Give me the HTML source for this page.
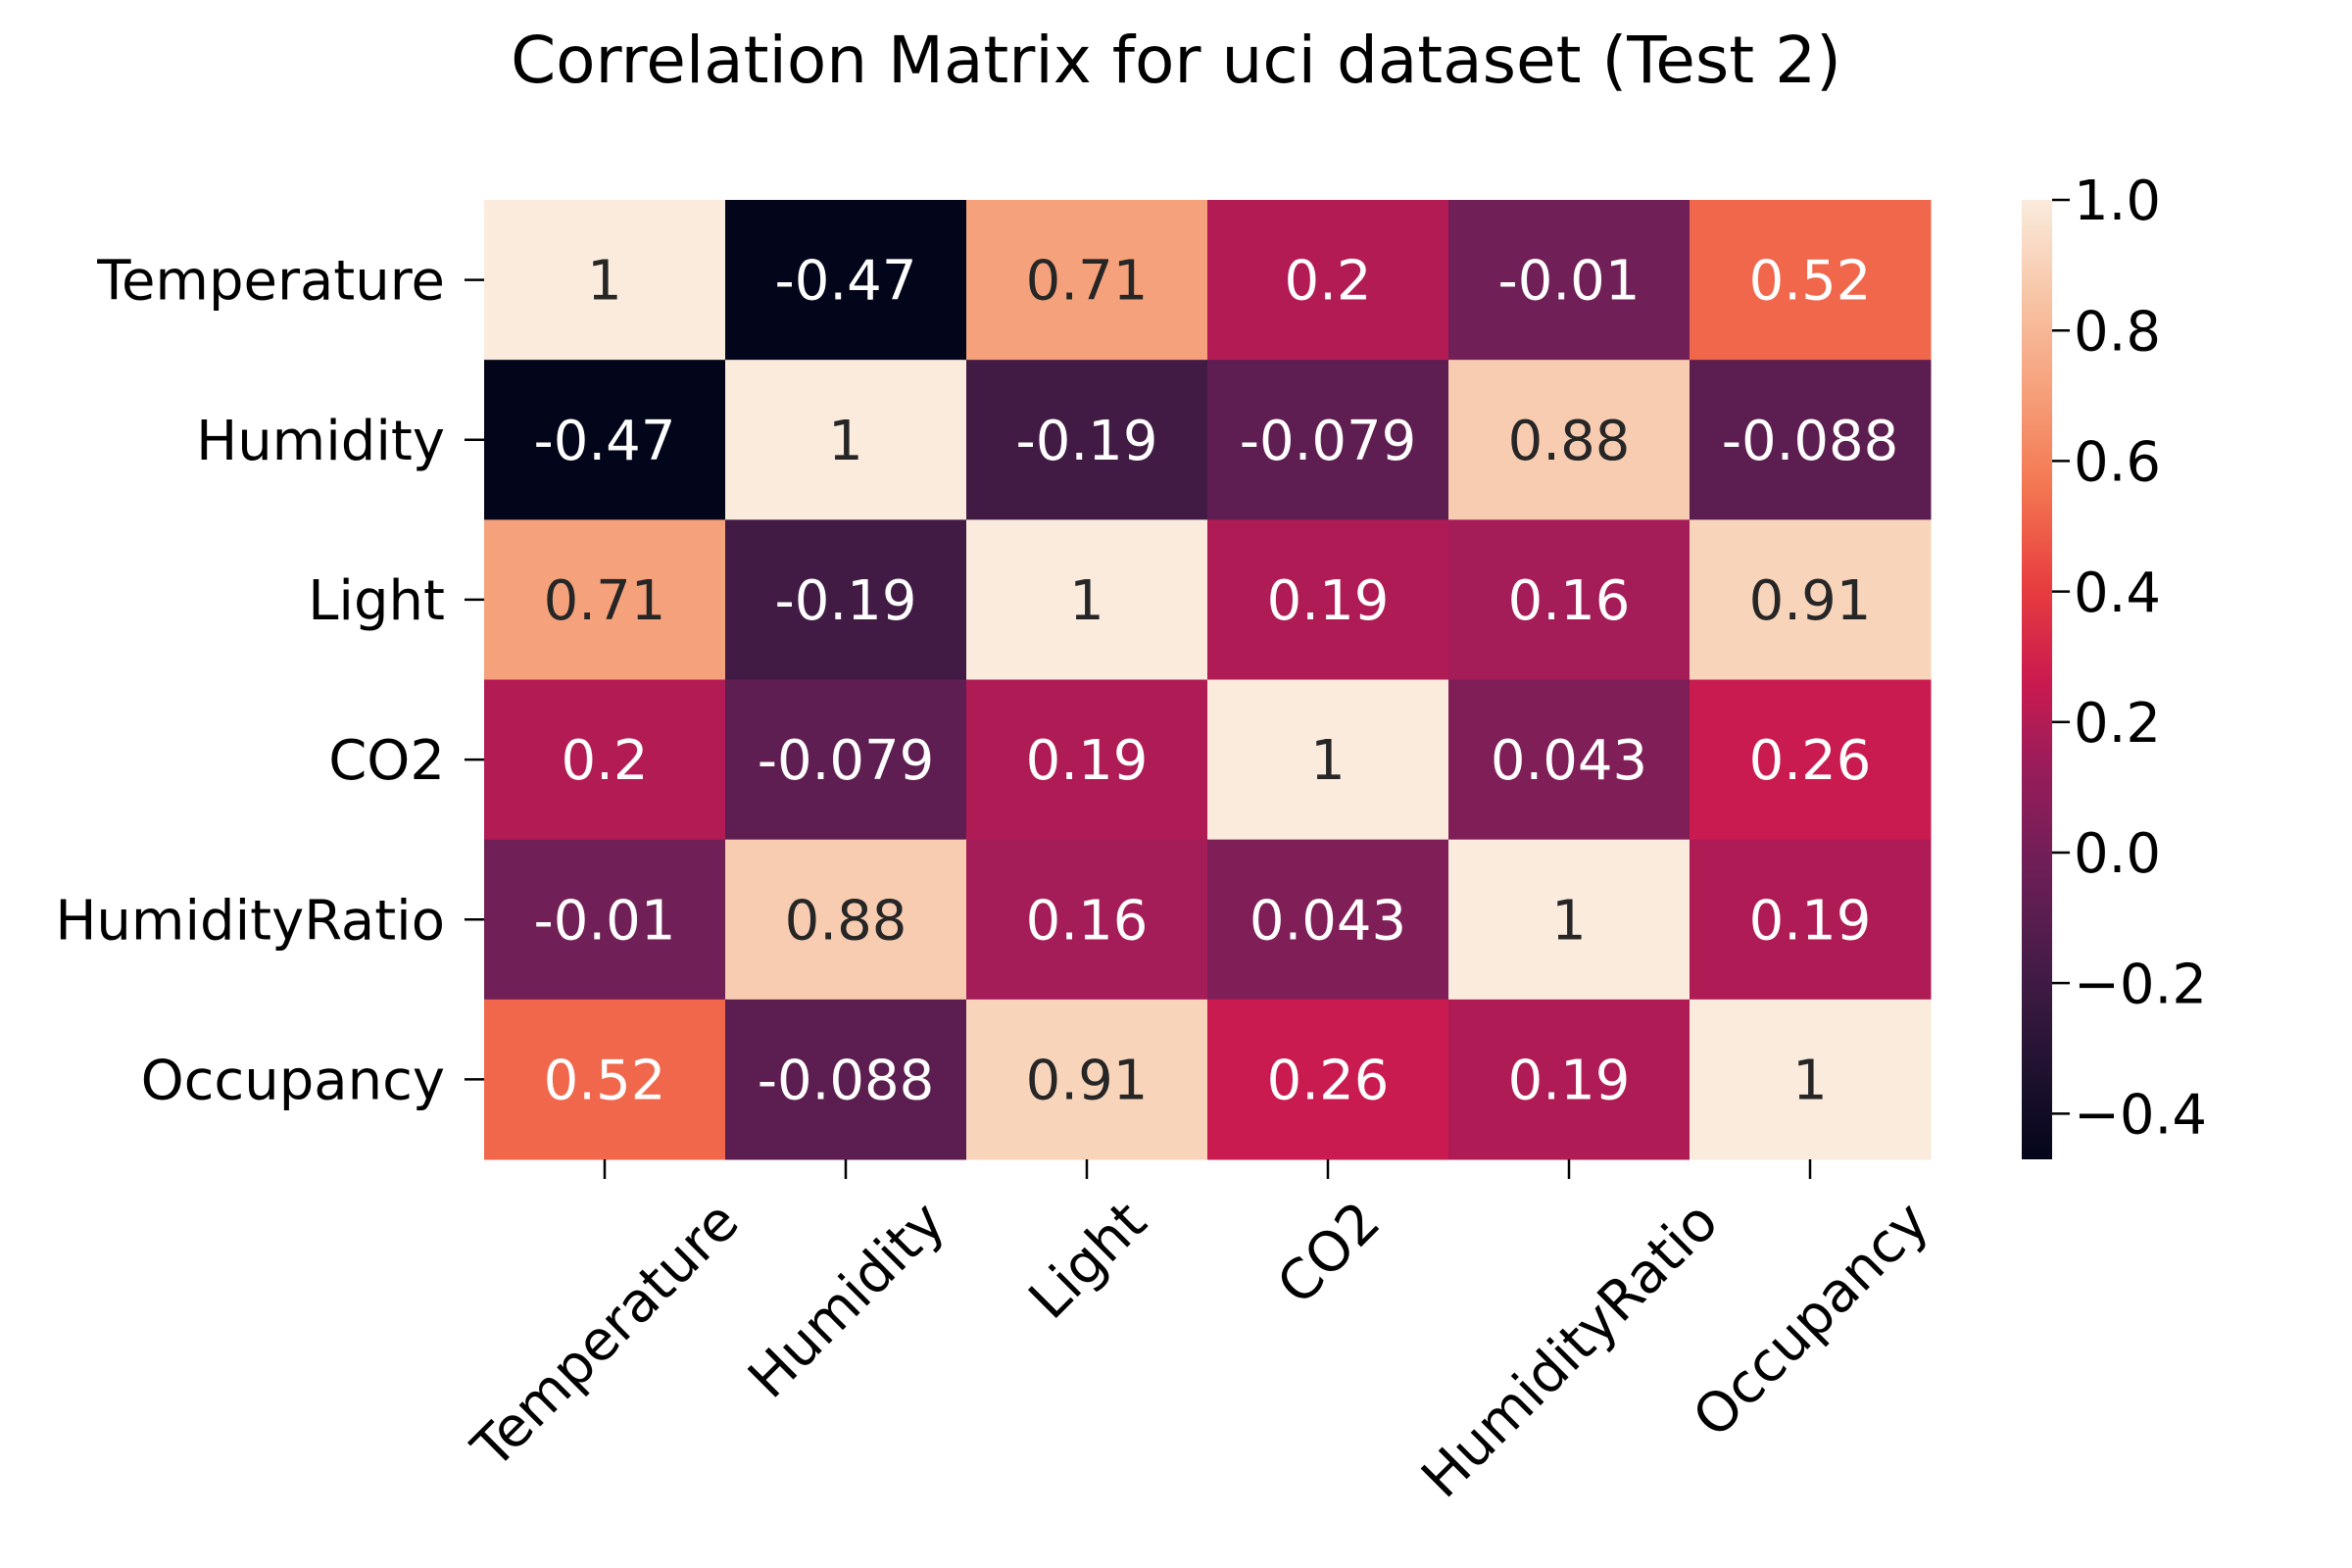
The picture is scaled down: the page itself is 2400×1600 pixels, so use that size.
<!DOCTYPE html>
<html><head><meta charset="utf-8"><style>
body{margin:0;background:#fff}
svg{display:block;font-family:"DejaVu Sans","Liberation Sans",sans-serif}
</style></head><body>
<svg id="chart" width="2400" height="1600" viewBox="0 0 2400 1600" xmlns="http://www.w3.org/2000/svg">
<rect width="2400" height="1600" fill="#fff"/>
<text x="1200" y="84" text-anchor="middle" font-size="66" fill="#000">Correlation Matrix for uci dataset (Test 2)</text>
<g id="cells"></g><g id="ylab"></g><g id="xlab"></g><g id="cbar"></g>
</svg>
<script>
const categories = ["Temperature","Humidity","Light","CO2","HumidityRatio","Occupancy"];
const row0 = [1, -0.47, 0.71, 0.2, -0.01, 0.52];
const row1 = [-0.47, 1, -0.19, -0.079, 0.88, -0.088];
const row2 = [0.71, -0.19, 1, 0.19, 0.16, 0.91];
const row3 = [0.2, -0.079, 0.19, 1, 0.043, 0.26];
const row4 = [-0.01, 0.88, 0.16, 0.043, 1, 0.19];
const row5 = [0.52, -0.088, 0.91, 0.26, 0.19, 1];
const matrix = [row0,row1,row2,row3,row4,row5];
const cbarTicks = [1.0, 0.8, 0.6, 0.4, 0.2, 0.0, -0.2, -0.4];

const NS="http://www.w3.org/2000/svg";
const L=494,R=1970,T=204,B=1183;
const FS=56;
const all=matrix.flat();
const vmin=Math.min(...all), vmax=Math.max(...all);
const stops=[[3,5,26],[34,19,49],[69,28,71],[108,31,86],[149,28,91],[203,27,79],[232,63,63],[243,118,81],[245,160,122],[247,197,166],[250,235,221]];
function color(v){
  let t=(v-vmin)/(vmax-vmin); t=Math.max(0,Math.min(1,t));
  const p=t*(stops.length-1), i=Math.min(Math.floor(p),stops.length-2), f=p-i;
  return stops[i].map((a,k)=>Math.round(a+(stops[i+1][k]-a)*f));
}
function mk(tag,attrs,parent){const e=document.createElementNS(NS,tag);for(const k in attrs)e.setAttribute(k,attrs[k]);parent.appendChild(e);return e;}
const n=categories.length, cw=(R-L)/n, ch=(B-T)/n;
const xs=i=>L+i*cw, ys=j=>T+j*ch;
const cells=document.getElementById('cells');
matrix.forEach((row,j)=>row.forEach((v,i)=>{
  const c=color(v);
  const r=mk('rect',{x:xs(i),y:ys(j),width:cw+0.5,height:ch+0.5,fill:`rgb(${c})`},cells);
  
  
  const lum=0.2126*c[0]+0.7152*c[1]+0.0722*c[2];
  const t=mk('text',{x:xs(i)+cw/2,y:ys(j)+ch/2+FS*0.36,'text-anchor':'middle','font-size':FS,fill:lum>140?'#262626':'#ffffff'},cells);
  
  
  t.textContent=String(v);
}));
const ylab=document.getElementById('ylab'), xlab=document.getElementById('xlab');
categories.forEach((c,j)=>{
  const y=ys(j)+ch/2;
  mk('line',{x1:L-20,x2:L,y1:y,y2:y,stroke:'#000','stroke-width':2.5},ylab);
  const t=mk('text',{x:L-40,y:y+FS*0.36,'text-anchor':'end','font-size':FS,fill:'#000'},ylab);
  
  
  t.textContent=c;
});
categories.forEach((c,i)=>{
  const x=xs(i)+cw/2;
  mk('line',{x1:x,x2:x,y1:B,y2:B+20,stroke:'#000','stroke-width':2.5},xlab);
  const t=mk('text',{'text-anchor':'middle','font-size':FS,fill:'#000'},xlab);
  
  
  t.textContent=c;
  const w=t.getComputedTextLength(), h=FS*0.95;
  const half=(w+h)*0.7071/2;
  const cy=B+34+half;
  t.setAttribute('x',x);t.setAttribute('y',cy+FS*0.36);
  t.setAttribute('transform',`rotate(-45 ${x} ${cy})`);
});
const cb=document.getElementById('cbar');
const CX=2063,CW=31;
const cys=v=>B-(v-vmin)/(vmax-vmin)*(B-T);
const grad=mk('defs',{},cb);
const lg=mk('linearGradient',{id:'g',x1:0,y1:1,x2:0,y2:0},grad);
for(let k=0;k<=40;k++){const c=color(vmin+(vmax-vmin)*k/40);mk('stop',{offset:k/40,'stop-color':`rgb(${c})`},lg);}
const bar=mk('rect',{x:CX,y:T,width:CW,height:B-T,fill:'url(#g)'},cb);


cbarTicks.forEach(v=>{
  const y=cys(v);
  mk('line',{x1:CX+CW,x2:CX+CW+18,y1:y,y2:y,stroke:'#000','stroke-width':2.5},cb);
  const t=mk('text',{x:CX+CW+22,y:y+FS*0.36,'font-size':FS,fill:'#000'},cb);
  
  
  t.textContent=v.toFixed(1).replace('-','\u2212');
});
</script>
</body></html>
